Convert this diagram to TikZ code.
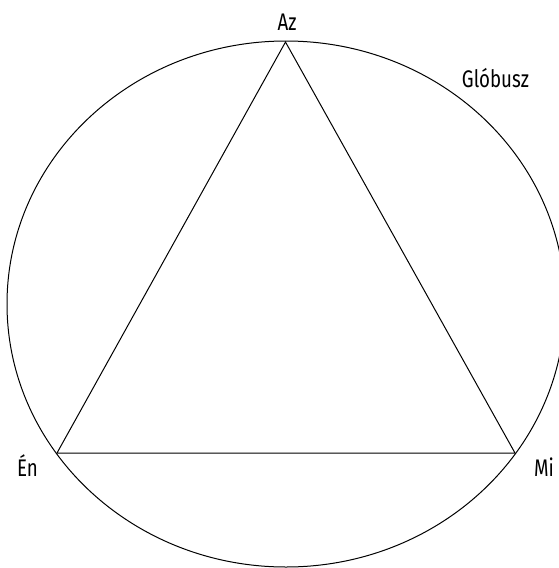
\documentclass[tikz,border=0pt]{standalone}
\usepackage{fontspec}
\setmainfont{Fira Sans}[FakeStretch=0.78]
\begin{document}
\begin{tikzpicture}[x=1pt,y=-1pt,
  edge/.style={line width=1pt,black},
  lbl/.style={font=\fontsize{24}{28}\selectfont,inner sep=0pt,anchor=base}]
\useasboundingbox (0,0) rectangle (559,568);
\begin{scope}
\clip (0,0) rectangle (559,568);
\draw[edge] (286,304) ellipse [x radius=279, y radius=263];
\end{scope}
\coordinate (az) at (285.5,42);
\coordinate (en) at (57,453);
\coordinate (mi) at (515,453);
\draw[edge,line join=miter] (az) -- (mi) -- (en) -- cycle;
\node[lbl] (laz) at (287,30) {Az};
\node[lbl] (len) at (27.5,476) {Én};
\node[lbl] (lmi) at (544,476) {Mi};
\node[lbl] (lglob) at (495.5,87) {Glóbusz};
\end{tikzpicture}
\end{document}
